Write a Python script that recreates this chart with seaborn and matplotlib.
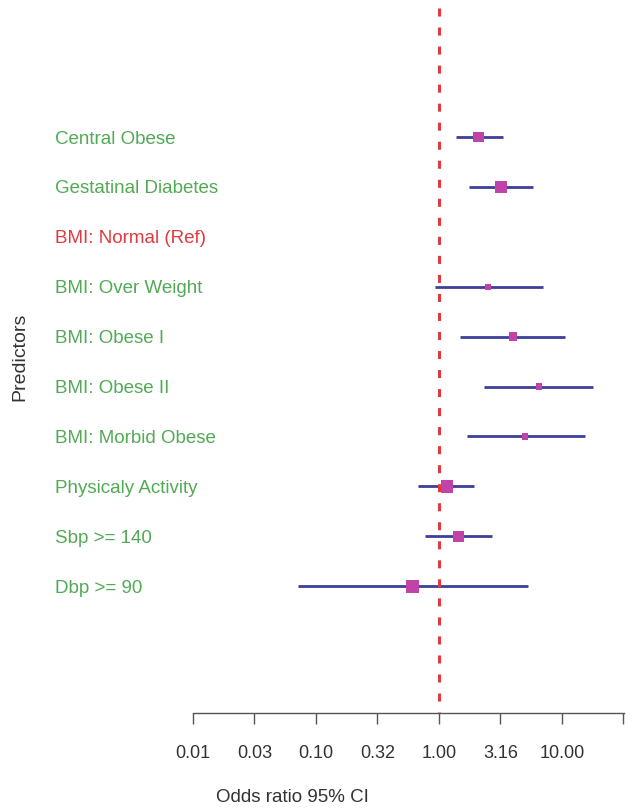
import numpy as np
import pandas as pd
import matplotlib
matplotlib.use("Agg")
import matplotlib.pyplot as plt
import matplotlib.transforms as mtransforms
import seaborn as sns

# Predictors, odds ratios and 95% confidence limits
predictors = [
    "Central Obese", "Gestatinal Diabetes", "BMI: Normal (Ref)",
    "BMI: Over Weight", "BMI: Obese I", "BMI: Obese II",
    "BMI: Morbid Obese", "Physicaly Activity", "Sbp >= 140", "Dbp >= 90",
]
odds_ratio = [2.11, 3.19, np.nan, 2.50, 4.00, 6.50, 5.00, 1.16, 1.43, 0.61]
ci_lower = [1.37, 1.75, np.nan, 0.93, 1.48, 2.32, 1.69, 0.67, 0.77, 0.071]
ci_upper = [3.31, 5.81, np.nan, 7.01, 10.6, 17.9, 15.4, 1.93, 2.70, 5.29]
weight = [10, 11, np.nan, 5.5, 7.5, 6, 6, 12, 10, 13]
is_reference = [False, False, True, False, False, False, False, False, False, False]

tick_values = [0.01, 0.0316, 0.1, 0.316, 1.0, 3.16, 10.0, 31.6]
tick_labels = ["0.01", "0.03", "0.10", "0.32", "1.00", "3.16", "10.00", ""]

df = pd.DataFrame({
    "predictor": predictors,
    "row": np.arange(len(predictors)),
    "or": odds_ratio,
    "lo": ci_lower,
    "hi": ci_upper,
    "w": weight,
})

sns.set_theme(style="white")
plt.rcParams["font.family"] = ["Liberation Sans", "DejaVu Sans"]
plt.rcParams["lines.scale_dashes"] = False

W, H, DPI = 632, 808, 100
fig = plt.figure(figsize=(W / DPI, H / DPI), dpi=DPI)
ax = fig.add_axes([193 / W, 95 / H, (623.5 - 193) / W, 713 / H])

ax.set_xscale("log")
ax.set_xlim(10 ** -2, 10 ** 1.5)
ax.set_ylim(11.54, -2.745)

line_col = "#3d3f98"
mark_col = "#c044a8"
green = "#52aa55"
red = "#e03a3e"
text_col = "#333333"

# reference line at OR = 1
ax.vlines(1.0, -2.58, 11.54, colors=red, linewidth=2.2,
          linestyles=(0, (5.8, 7.9)), zorder=3)

# confidence intervals
valid = df.dropna(subset=["or"])
ax.hlines(valid["row"], valid["lo"], valid["hi"], colors=line_col,
          linewidth=2.0, zorder=2)

# point estimates, square size by weight
sns.scatterplot(data=valid, x="or", y="row", size="w", sizes=(19, 88),
                size_norm=(5.5, 13), marker="s", color=mark_col,
                edgecolor="none", legend=False, ax=ax, zorder=4)

# predictor labels placed to the left of the plotting region
trans = mtransforms.blended_transform_factory(fig.transFigure, ax.transData)
for r, name, ref in zip(df["row"], predictors, is_reference):
    ax.text(55 / W, r + 0.04, name, transform=trans, ha="left", va="center",
            fontsize=13.5, color=red if ref else green, clip_on=False)

for side in ["top", "right", "left"]:
    ax.spines[side].set_visible(False)
ax.spines["bottom"].set_color("#555555")
ax.spines["bottom"].set_linewidth(1.0)

ax.set_xticks(tick_values)
ax.set_xticklabels(tick_labels)
ax.xaxis.set_minor_locator(matplotlib.ticker.NullLocator())
ax.tick_params(axis="x", which="major", bottom=True, length=8, width=1.0,
               color="#555555", labelsize=13, labelcolor=text_col, pad=15)
ax.set_yticks([])
ax.set_ylabel("")
ax.set_xlabel("Odds ratio 95% CI", fontsize=13.5, color=text_col, ha="left")
ax.xaxis.set_label_coords((216 - 193) / (623.5 - 193), -(798 - 713) / 713)
ax.xaxis.label.set_va("center")

fig.text(20 / W, 1 - 357 / H, "Predictors", rotation=90, ha="center",
         va="center", fontsize=14, color=text_col)

fig.savefig("out.png", dpi=DPI)
